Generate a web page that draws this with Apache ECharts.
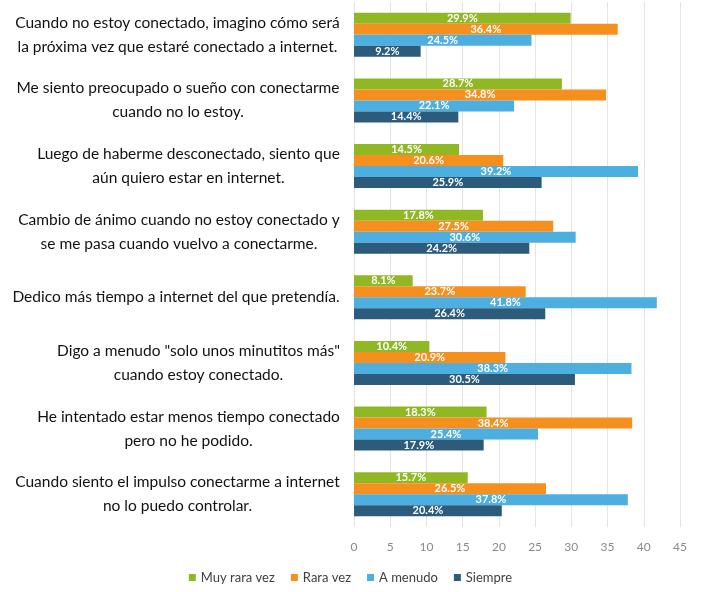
<!DOCTYPE html>
<html>
<head>
<meta charset="utf-8">
<script src="https://cdn.jsdelivr.net/npm/echarts@6/dist/echarts.min.js"></script>
<style>html,body{margin:0;padding:0;background:#fff}#c{width:701px;height:592px}</style>
</head>
<body>
<div id="c"></div>
<script>
const categories = [
  'Cuando no estoy conectado, imagino cómo será\nla próxima vez que estaré conectado a internet.',
  'Me siento preocupado o sueño con conectarme\ncuando no lo estoy.',
  'Luego de haberme desconectado, siento que\naún quiero estar en internet.',
  'Cambio de ánimo cuando no estoy conectado y\nse me pasa cuando vuelvo a conectarme.',
  'Dedico más tiempo a internet del que pretendía.',
  'Digo a menudo "solo unos minutitos más"\ncuando estoy conectado.',
  'He intentado estar menos tiempo conectado\npero no he podido.',
  'Cuando siento el impulso conectarme a internet\nno lo puedo controlar.'
];
const seriesNames = ['Muy rara vez', 'Rara vez', 'A menudo', 'Siempre'];
const muyRaraVez = [29.9, 28.7, 14.5, 17.8, 8.1, 10.4, 18.3, 15.7];
const raraVez    = [36.4, 34.8, 20.6, 27.5, 23.7, 20.9, 38.4, 26.5];
const aMenudo    = [24.5, 22.1, 39.2, 30.6, 41.8, 38.3, 25.4, 37.8];
const siempre    = [9.2, 14.4, 25.9, 24.2, 26.4, 30.5, 17.9, 20.4];
const xTicks = [0, 5, 10, 15, 20, 25, 30, 35, 40, 45];

const colors = ['#8fb824', '#f5901e', '#4daee0', '#2c5b7b'];
const labelFont = 'Lato';
const labelSize = 15.5;

// measure widest line per category so lines are centered within a right-aligned block
const cv = document.createElement('canvas').getContext('2d');
cv.font = labelSize + 'px ' + labelFont;
const rich = {};
categories.forEach((c, i) => {
  const w = Math.max(...c.split('\n').map(l => cv.measureText(l).width));
  rich['c' + i] = { width: Math.ceil(w), align: 'center', fontFamily: labelFont, fontSize: labelSize, color: '#111111', lineHeight: 24 };
});

const data = [muyRaraVez, raraVez, aMenudo, siempre];
const chart = echarts.init(document.getElementById('c'));
chart.setOption({
  animation: false,
  color: colors,
  grid: { left: 354, right: 21, top: 2, bottom: 65, containLabel: false },
  xAxis: {
    type: 'value', min: xTicks[0], max: xTicks[xTicks.length - 1], interval: 5,
    axisLine: { show: false }, axisTick: { show: false },
    splitLine: { lineStyle: { color: '#e3e3e3', width: 1 } },
    axisLabel: { color: '#8a8a8a', fontFamily: labelFont, fontSize: 12, margin: 14 }
  },
  yAxis: {
    type: 'category', data: categories, inverse: true,
    axisLine: { show: false }, axisTick: { show: false },
    axisLabel: {
      align: 'right', margin: 14,
      formatter: (v, i) => v.split('\n').map(l => '{c' + i + '|' + l + '}').join('\n'),
      rich: rich
    }
  },
  legend: {
    bottom: 3, left: 'center', itemWidth: 7, itemHeight: 7, itemGap: 16, icon: 'rect',
    textStyle: { color: '#404040', fontFamily: labelFont, fontSize: 13 },
    data: seriesNames
  },
  series: seriesNames.map((n, k) => ({
    name: n, type: 'bar', data: data[k], barWidth: 11, barGap: '0%',
    label: { show: true, position: 'inside', color: '#ffffff', fontFamily: labelFont, fontSize: 11, fontWeight: 'bold', formatter: p => p.value.toFixed(1) + '%' }
  }))
});
</script>
</body>
</html>
